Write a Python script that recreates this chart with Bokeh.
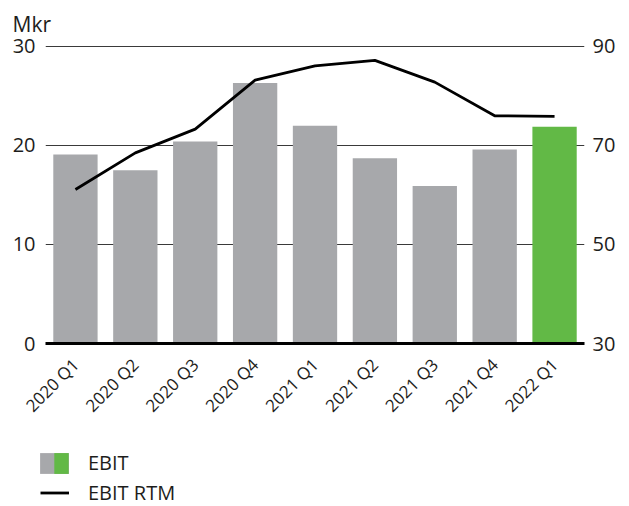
from bokeh.plotting import figure
from bokeh.layouts import column, row
from bokeh.models import (ColumnDataSource, FactorRange, Range1d, LinearAxis,
                          FixedTicker, Legend, LegendItem)
from bokeh.embed import file_html
from bokeh.resources import INLINE

# ---- data ----
quarters = ["2020 Q1", "2020 Q2", "2020 Q3", "2020 Q4",
            "2021 Q1", "2021 Q2", "2021 Q3", "2021 Q4", "2022 Q1"]
ebit = [19.1, 17.5, 20.4, 26.3, 22.0, 18.7, 15.9, 19.6, 21.9]
ebit_rtm = [61.1, 68.5, 73.3, 83.2, 86.1, 87.2, 82.8, 76.0, 75.9]
left_ticks = [0, 10, 20, 30]
right_ticks = [30, 50, 70, 90]

GRAY = "#A7A8AB"
GREEN = "#62B946"
TEXT = "#1d1d1b"
FONT = "Open Sans"

colors = [GRAY] * (len(quarters) - 1) + [GREEN]
src = ColumnDataSource(dict(q=quarters, ebit=ebit, rtm=ebit_rtm, color=colors))

# small headroom so the top gridline (30 / 90) is drawn inside the frame
pad = 0.2
p = figure(x_range=FactorRange(factors=quarters, range_padding=0),
           y_range=Range1d(0, 30 + pad),
           width=629, height=430, output_backend="svg", toolbar_location=None,
           min_border_left=45, min_border_right=45, min_border_top=43,
           min_border_bottom=87)
p.extra_y_ranges = {"rtm": Range1d(30, 90 + 2 * pad)}
p.outline_line_color = None

p.title.text = "Mkr"
p.title.align = "left"
p.title.offset = -33
p.title.standoff = 14
p.title.text_font = FONT
p.title.text_font_size = "21px"
p.title.text_font_style = "normal"
p.title.text_color = TEXT

bars = p.vbar(x="q", top="ebit", width=0.74, fill_color="color",
              line_color=None, source=src)
line = p.line(x="q", y="rtm", y_range_name="rtm", line_color="black",
              line_width=2.8, source=src)

# grid
p.xgrid.visible = False
p.ygrid.grid_line_color = "#3a3a3a"
p.ygrid.grid_line_width = 1

# left axis
ya = p.yaxis[0]
ya.ticker = FixedTicker(ticks=left_ticks)
ya.axis_line_color = None
ya.major_tick_line_color = None
ya.major_tick_out = 0
ya.minor_tick_line_color = None
ya.major_label_text_font = FONT
ya.major_label_text_font_size = "20px"
ya.major_label_text_color = TEXT
ya.major_label_standoff = 10

# right axis
ra = LinearAxis(y_range_name="rtm", ticker=FixedTicker(ticks=right_ticks))
ra.axis_line_color = None
ra.major_tick_line_color = None
ra.major_tick_out = 0
ra.minor_tick_line_color = None
ra.major_label_text_font = FONT
ra.major_label_text_font_size = "20px"
ra.major_label_text_color = TEXT
ra.major_label_standoff = 8
p.add_layout(ra, "right")

# x axis
xa = p.xaxis[0]
xa.axis_line_color = "black"
xa.axis_line_width = 3
xa.major_tick_line_color = None
xa.major_tick_out = 0
xa.minor_tick_line_color = None
xa.major_label_orientation = 0.785398
xa.major_label_text_font = FONT
xa.major_label_text_font_size = "17px"
xa.major_label_text_color = TEXT
xa.major_label_standoff = 18

# ---- legend strip (separate figure so nothing is clipped) ----
nan = float("nan")
lg = figure(width=629, height=76, output_backend="svg", toolbar_location=None,
            x_range=Range1d(0, 1), y_range=Range1d(0, 1),
            x_axis_location=None, y_axis_location=None, min_border=0,
            min_border_left=0, min_border_right=0, min_border_top=0,
            min_border_bottom=0)
lg.outline_line_color = None
lg.grid.visible = False
sw_gray = lg.vbar(x=[nan], top=[nan], width=1, fill_color=GRAY, line_color=None)
sw_green = lg.vbar(x=[nan], top=[nan], width=1, fill_color=GREEN, line_color=None)
sw_line = lg.line(x=[nan], y=[nan], line_color="black", line_width=2.8)

common = dict(padding=0, margin=0, border_line_color=None,
              background_fill_alpha=0, label_text_font=FONT,
              label_text_font_size="20px", label_text_color=TEXT,
              label_height=21)
# area swatches are drawn inset by 10% on each side, hence the larger boxes
leg_gray = Legend(items=[LegendItem(label="EBIT", renderers=[sw_gray])],
                  location=(36, 30), glyph_width=36, glyph_height=26,
                  label_standoff=16, **common)
leg_green = Legend(items=[LegendItem(label=" ", renderers=[sw_green])],
                   location=(52, 30), glyph_width=18, glyph_height=26,
                   label_standoff=0, **common)
leg_line = Legend(items=[LegendItem(label="EBIT RTM", renderers=[sw_line])],
                  location=(40, 0), glyph_width=29, glyph_height=21,
                  label_standoff=19, **common)
lg.add_layout(leg_gray)
lg.add_layout(leg_green)
lg.add_layout(leg_line)

layout = column(p, row(lg, spacing=0), spacing=0)
open("out.html", "w").write(file_html(layout, INLINE))
